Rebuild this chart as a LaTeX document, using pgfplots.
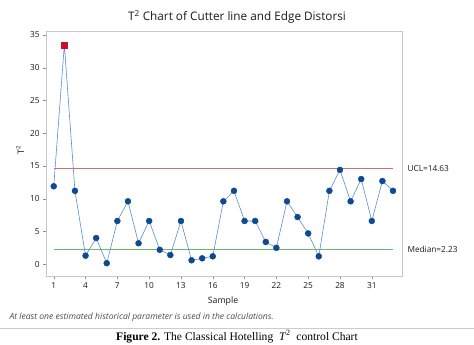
\documentclass[border=0pt]{standalone}
\usepackage{fontspec}
\setmainfont{Open Sans}
\newfontfamily\capfont{Liberation Serif}
\usepackage{pgfplots}
\pgfplotsset{compat=1.18}
\definecolor{lineblue}{HTML}{5A8CCB}
\definecolor{markblue}{HTML}{0D4A92}
\definecolor{uclred}{HTML}{D0706A}
\definecolor{medgreen}{HTML}{6DB56D}
\definecolor{ptred}{HTML}{C8102E}
\begin{document}
\begin{tikzpicture}[x=1bp,y=1bp]
\useasboundingbox (0,0) rectangle (474,344);
\begin{axis}[
  at={(46bp,68bp)}, anchor=south west,
  scale only axis, width=356bp, height=245bp,
  xmin=0.27, xmax=33.85, ymin=-1.8, ymax=35.6,
  xtick={1,4,7,10,13,16,19,22,25,28,31},
  ytick={0,5,10,15,20,25,30,35},
  axis line style={draw=black!22},
  tick style={draw=black!45},
  tick align=outside, major tick length=3bp,
  xtick pos=bottom, ytick pos=left,
  tick label style={font=\fontsize{8.3}{9}\selectfont, text=black!90},
  /pgf/number format/assume math mode=true,
  clip=false,
]
\addplot[uclred, line width=0.6pt] coordinates {(1,14.63) (33,14.63)};
\addplot[medgreen, line width=0.6pt] coordinates {(1,2.23) (33,2.23)};
\addplot[lineblue, line width=0.6pt] coordinates {
(1,11.9) (2,33.5) (3,11.2) (4,1.3) (5,4.0) (6,0.15) (7,6.6) (8,9.6) (9,3.2) (10,6.6)
(11,2.2) (12,1.4) (13,6.6) (14,0.6) (15,0.9) (16,1.2) (17,9.6) (18,11.2) (19,6.6) (20,6.6)
(21,3.4) (22,2.5) (23,9.6) (24,7.2) (25,4.7) (26,1.2) (27,11.2) (28,14.4) (29,9.6) (30,13.0)
(31,6.6) (32,12.7) (33,11.2)};
\addplot[only marks, mark=*, mark size=3bp, mark options={draw=markblue, fill=markblue}] coordinates {
(1,11.9) (3,11.2) (4,1.3) (5,4.0) (6,0.15) (7,6.6) (8,9.6) (9,3.2) (10,6.6)
(11,2.2) (12,1.4) (13,6.6) (14,0.6) (15,0.9) (16,1.2) (17,9.6) (18,11.2) (19,6.6) (20,6.6)
(21,3.4) (22,2.5) (23,9.6) (24,7.2) (25,4.7) (26,1.2) (27,11.2) (28,14.4) (29,9.6) (30,13.0)
(31,6.6) (32,12.7) (33,11.2)};
\addplot[only marks, mark=square*, mark size=3bp, mark options={draw=ptred, fill=ptred}] coordinates {(2,33.5)};
\node[anchor=west, font=\fontsize{8.3}{9}\selectfont, text=black!90] at (axis cs:33.85,14.63) {\hspace*{2bp}UCL=14.63};
\node[anchor=west, font=\fontsize{8.3}{9}\selectfont, text=black!90] at (axis cs:33.85,2.23) {\hspace*{2bp}Median=2.23};
\end{axis}
\node[font=\fontsize{11.8}{13}\selectfont, text=black!90] at (237,327) {T\textsuperscript{2} Chart of Cutter line and Edge Distorsi};
\node[rotate=90, font=\fontsize{9}{10}\selectfont, text=black!90] at (20,194) {T\textsuperscript{2}};
\node[font=\fontsize{8.8}{10}\selectfont, text=black!90] at (223,43) {Sample};
\node[anchor=west, font=\fontsize{8.6}{10}\itshape, text=black!70] at (6,27) {At least one estimated historical parameter is used in the calculations.};
\draw[black!20, line width=0.6pt] (0,16) -- (474,16);
\node[font=\capfont\fontsize{11.6}{13}\selectfont] at (237,7.5) {\textbf{Figure 2.} The Classical Hotelling \ \textit{T}\textsuperscript{2} \ control Chart};
\end{tikzpicture}
\end{document}
